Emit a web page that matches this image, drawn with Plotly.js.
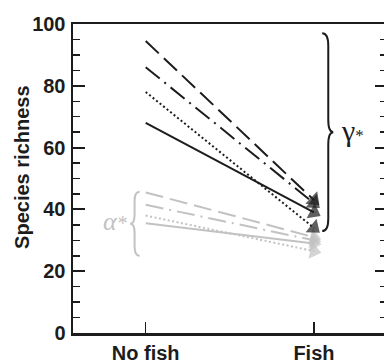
<!DOCTYPE html>
<html>
<head>
<meta charset="utf-8">
<script src="https://cdn.plot.ly/plotly-3.0.1.min.js"></script>
<style>html,body{margin:0;padding:0;overflow:hidden;background:#fff;}#chart{width:392px;height:364px;}</style>
</head>
<body>
<div id="chart"></div>
<script>
// Categories and tick labels
const categories = ['No fish', 'Fish'];
const yTicks = [0, 20, 40, 60, 80, 100];

// Gamma (regional) richness, black series
const gammaLongDash = [94.5, 43];
const gammaDashDot = [86, 42];
const gammaDotted = [78, 34];
const gammaSolid = [68, 39];

// Alpha (local) richness, grey series
const alphaLongDash = [45.5, 31];
const alphaDashDot = [41.5, 30];
const alphaDotted = [38, 26.5];
const alphaSolid = [35.5, 29];

const BLACK = '#1c1c1c';
const GREY = '#c2c2c2';
const xIdx = categories.map((c, i) => i);

function series(y, color, dash) {
  return {
    x: xIdx, y: y, type: 'scatter', mode: 'lines+markers',
    line: {color: color, width: 2, dash: dash},
    marker: {symbol: 'triangle-up', size: [0, 15], color: color, angleref: 'previous', line: {width: 0}},
    hoverinfo: 'skip', showlegend: false
  };
}

const traces = [
  series(alphaSolid, GREY, 'solid'),
  series(alphaDotted, GREY, '2px,2.5px'),
  series(alphaDashDot, GREY, '18px,6px,2px,6px'),
  series(alphaLongDash, GREY, '18px,7px'),
  series(gammaSolid, BLACK, 'solid'),
  series(gammaDotted, BLACK, '2px,2.5px'),
  series(gammaDashDot, BLACK, '18px,6px,2px,6px'),
  series(gammaLongDash, BLACK, '18px,7px')
];

const gammaAll = [].concat(gammaLongDash, gammaDashDot, gammaDotted, gammaSolid);
const alphaAll = [].concat(alphaLongDash, alphaDashDot, alphaDotted, alphaSolid);

// curly brace path; dir = +1 for "}" (tip to right), -1 for "{"
function bracePath(x0, yT, yB, dir, h, p, r) {
  const yM = (yT + yB) / 2;
  const hx = x0 - dir * h, px = x0 + dir * p;
  return `M${hx},${yT} Q${x0},${yT} ${x0},${yT - r} L${x0},${yM + r} Q${x0},${yM} ${px},${yM} ` +
         `Q${x0},${yM} ${x0},${yM - r} L${x0},${yB + r} Q${x0},${yB} ${hx},${yB}`;
}

const gTop = Math.max(...gammaAll) + 2.5, gBot = Math.min(...gammaAll) - 1;
const aTop = Math.max(...alphaAll) + 0.2, aBot = Math.min(...alphaAll) - 1.5;
const gX = 1.085, aX = -0.066;

const LABEL_FONT = {family: '"Liberation Sans", Arial, sans-serif', size: 20, color: BLACK, weight: 'bold'};

const layout = {
  width: 392, height: 364,
  margin: {l: 73, r: 5, t: 24, b: 30.7},
  paper_bgcolor: '#fff', plot_bgcolor: '#fff',
  font: LABEL_FONT,
  xaxis: {
    range: [-0.432, 1.434], tickvals: xIdx, ticktext: categories,
    showline: true, linewidth: 2.5, linecolor: BLACK, mirror: true,
    ticks: 'inside', ticklen: 11, tickwidth: 1.5, tickcolor: BLACK,
    showgrid: false, zeroline: false, ticklabelstandoff: 0,
    tickfont: LABEL_FONT
  },
  yaxis: {
    range: [0, 100], tickvals: yTicks,
    showline: true, linewidth: 2.5, linecolor: BLACK, mirror: 'ticks',
    ticks: 'inside', ticklen: 12, tickwidth: 2, tickcolor: BLACK,
    minor: {dtick: 5, ticks: 'inside', ticklen: 7, tickwidth: 1.5, tickcolor: BLACK, showgrid: false},
    showgrid: false, zeroline: false, ticklabelstandoff: 1,
    tickfont: LABEL_FONT
  },
  shapes: [
    {type: 'path', xref: 'x', yref: 'y', path: bracePath(gX, gTop, gBot, 1, 0.036, 0.03, 4),
     line: {color: BLACK, width: 2}},
    {type: 'path', xref: 'x', yref: 'y', path: bracePath(aX, aTop, aBot, -1, 0.03, 0.026, 3),
     line: {color: GREY, width: 2}}
  ],
  annotations: [
    {xref: 'paper', yref: 'paper', x: -0.165, y: 0.535, text: 'Species richness', textangle: -90,
     showarrow: false, xanchor: 'center', yanchor: 'middle', font: LABEL_FONT},
    {xref: 'x', yref: 'y', x: gX + 0.03, y: (gTop + gBot) / 2, text: 'γ<span style="font-size:17px">*</span>',
     showarrow: false, xanchor: 'left', yanchor: 'middle', xshift: 6, yshift: 2,
     font: {family: '"Liberation Serif", "Times New Roman", serif', size: 30, color: BLACK, weight: 'normal'}},
    {xref: 'x', yref: 'y', x: aX - 0.026, y: (aTop + aBot) / 2, text: 'α<span style="font-size:20px">*</span>',
     showarrow: false, xanchor: 'right', yanchor: 'middle', xshift: -1, yshift: 2,
     font: {family: '"Liberation Serif", "Times New Roman", serif', size: 26, color: GREY, weight: 'normal', style: 'italic'}}
  ]
};

Plotly.newPlot('chart', traces, layout, {staticPlot: true, displayModeBar: false});
</script>
</body>
</html>
